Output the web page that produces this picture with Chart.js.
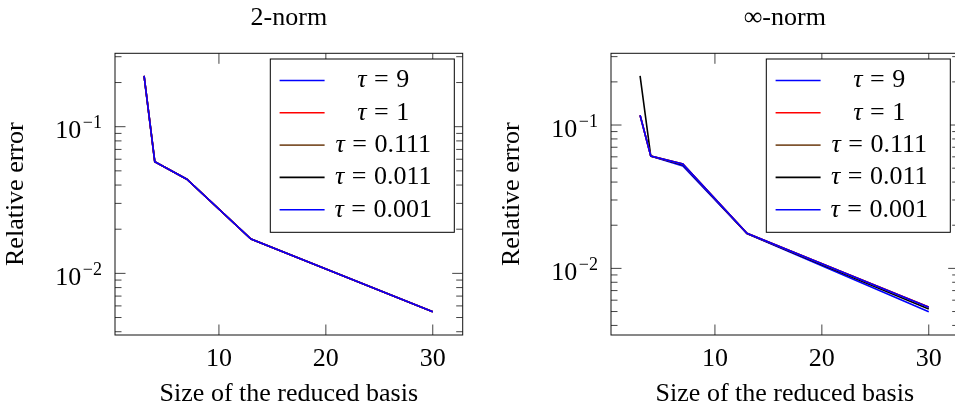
<!DOCTYPE html>
<html>
<head>
<meta charset="utf-8">
<script src="https://cdn.jsdelivr.net/npm/chart.js@4.4.1/dist/chart.umd.min.js"></script>
<style>
  html, body { margin: 0; padding: 0; background: #fff; overflow: hidden; }
  body { width: 955px; height: 412px; position: relative; }
  canvas { position: absolute; top: 0; }
  #twoNorm { left: 0; }
  #infNorm { left: 496px; }
</style>
</head>
<body>
<canvas id="twoNorm" width="477" height="412"></canvas>
<canvas id="infNorm" width="477" height="412"></canvas>
<script>
// size of the reduced basis (x values)
const basisSize = [3, 4, 7, 13, 30];
const tauLabels = ['9', '1', '0.111', '0.011', '0.001'];
const tauColors = ['#0000ff', '#ff0000', '#7f5530', '#000000', '#0000ff'];

// 2-norm relative error, one array per tau (curves all coincide)
const twoNormTau9     = [0.222, 0.0577, 0.0438, 0.01716, 0.00547];
const twoNormTau1     = [0.222, 0.0577, 0.0438, 0.01716, 0.00547];
const twoNormTau0111  = [0.222, 0.0577, 0.0438, 0.01716, 0.00547];
const twoNormTau0011  = [0.222, 0.0577, 0.0438, 0.01716, 0.00547];
const twoNormTau0001  = [0.222, 0.0577, 0.0438, 0.01716, 0.00547];

// infinity-norm relative error
const infNormTau9     = [0.117, 0.0608, 0.0534, 0.01755, 0.00535];
const infNormTau1     = [0.117, 0.0608, 0.0536, 0.01756, 0.00537];
const infNormTau0111  = [0.117, 0.0608, 0.0534, 0.01755, 0.00535];
const infNormTau0011  = [0.220, 0.0608, 0.0528, 0.01752, 0.00520];
const infNormTau0001  = [0.117, 0.0608, 0.0518, 0.01750, 0.00498];

const xTickValues = [10, 20, 30];
const yTickValues = [0.1, 0.01];

const FONT = '"Liberation Serif", "Times New Roman", serif';
Chart.defaults.color = '#000';
Chart.defaults.font.family = FONT;

// pgfplots-like box: frame, inward ticks, 10^k labels and the legend
const pgfBox = {
  id: 'pgfBox',
  afterDatasetsDraw(chart) {
    const { ctx, chartArea: a, scales: { x, y } } = chart;
    ctx.save();
    const tick = (x1, y1, x2, y2) => {
      ctx.beginPath(); ctx.moveTo(x1, y1); ctx.lineTo(x2, y2); ctx.stroke();
    };
    ctx.strokeStyle = '#444';
    ctx.lineWidth = 1;
    xTickValues.forEach(v => {
      const px = x.getPixelForValue(v);
      tick(px, a.bottom, px, a.bottom - 10.5);
      tick(px, a.top, px, a.top + 10.5);
    });
    const lo = Math.floor(Math.log10(y.min)), hi = Math.ceil(Math.log10(y.max));
    for (let e = lo; e <= hi; e++) {
      for (let k = 1; k <= 9; k++) {
        const v = k * Math.pow(10, e);
        if (v < y.min || v > y.max) continue;
        const len = k === 1 ? 10.5 : 6.5;
        const py = y.getPixelForValue(v);
        tick(a.left, py, a.left + len, py);
        tick(a.right, py, a.right - len, py);
      }
    }
    ctx.strokeStyle = '#111';
    ctx.strokeRect(a.left, a.top, a.right - a.left, a.bottom - a.top);

    // y tick labels as 10^k
    ctx.fillStyle = '#000';
    ctx.textAlign = 'right';
    ctx.textBaseline = 'alphabetic';
    yTickValues.forEach(v => {
      const py = y.getPixelForValue(v);
      const ex = Math.round(Math.log10(v));
      const sup = (ex < 0 ? '\u2212' : '') + Math.abs(ex);
      const xr = a.left - 13;
      ctx.font = '18px ' + FONT;
      ctx.fillText(sup, xr, py + 1.6);
      const w = ctx.measureText(sup).width;
      ctx.font = '26px ' + FONT;
      ctx.fillText('10', xr - w - 1.5, py + 11.6);
    });

    // legend box
    const lw = 184, lh = 173.3;
    const x0 = a.right - 8.4 - lw, y0 = a.top + 5.7;
    ctx.fillStyle = '#fff';
    ctx.fillRect(x0, y0, lw, lh);
    ctx.strokeStyle = '#000';
    ctx.strokeRect(x0, y0, lw, lh);
    ctx.textBaseline = 'middle';
    ctx.textAlign = 'left';
    const gap = 7.5;
    chart.data.datasets.forEach((ds, i) => {
      const cy = y0 + 21.5 + i * 32.3;
      ctx.strokeStyle = ds.borderColor;
      ctx.lineWidth = ds.borderWidth;
      tick(x0 + 9.3, cy, x0 + 54.3, cy);
      const num = tauLabels[i];
      ctx.font = 'italic 26px ' + FONT;
      const wt = ctx.measureText('\u03c4').width;
      ctx.font = '26px ' + FONT;
      const we = ctx.measureText('=').width;
      const wn = ctx.measureText(num).width;
      const total = wt + gap + we + gap + wn;
      let sx = x0 + 113 - total / 2;
      ctx.fillStyle = '#000';
      ctx.font = 'italic 26px ' + FONT;
      ctx.fillText('\u03c4', sx, cy);
      sx += wt + gap;
      ctx.font = '26px ' + FONT;
      ctx.fillText('=', sx, cy);
      sx += we + gap;
      ctx.fillText(num, sx, cy);
    });
    ctx.restore();
  }
};

function makeChart(id, title, seriesList, yMin, yMax) {
  const ctx = document.getElementById(id).getContext('2d');
  return new Chart(ctx, {
    type: 'line',
    data: {
      datasets: seriesList.map((vals, i) => ({
        label: '\u03c4 = ' + tauLabels[i],
        data: basisSize.map((b, j) => ({ x: b, y: vals[j] })),
        borderColor: tauColors[i],
        borderWidth: 1.6,
        pointRadius: 0,
        fill: false,
        tension: 0
      }))
    },
    options: {
      responsive: false,
      animation: false,
      devicePixelRatio: 1,
      layout: { padding: { left: 0, right: 14.3, top: 0, bottom: 0 } },
      plugins: {
        legend: { display: false },
        tooltip: { enabled: false },
        title: {
          display: true,
          text: title,
          fullSize: false,
          font: { size: 26, weight: 'normal', family: FONT },
          padding: { top: 2.9, bottom: 19.2 }
        }
      },
      scales: {
        x: {
          type: 'linear',
          min: 0.28,
          max: 32.8,
          bounds: 'data',
          afterBuildTicks: s => { s.ticks = xTickValues.map(v => ({ value: v })); },
          afterFit: s => { s.height = 77; },
          grid: { display: false, drawTicks: false },
          border: { display: false },
          ticks: { padding: 9, font: { size: 26 }, maxRotation: 0 },
          title: {
            display: true,
            text: 'Size of the reduced basis',
            font: { size: 26 },
            padding: { top: 0, bottom: 2.4 }
          }
        },
        y: {
          type: 'logarithmic',
          min: yMin,
          max: yMax,
          bounds: 'data',
          afterFit: s => { s.width = 115; },
          grid: { display: false, drawTicks: false },
          border: { display: false },
          ticks: { display: false },
          title: {
            display: true,
            text: 'Relative error',
            font: { size: 26 },
            padding: { top: 1, bottom: 0 }
          }
        }
      }
    },
    plugins: [pgfBox]
  });
}

makeChart('twoNorm', '2-norm',
  [twoNormTau9, twoNormTau1, twoNormTau0111, twoNormTau0011, twoNormTau0001],
  0.0038, 0.3165);
makeChart('infNorm', '\u221e-norm',
  [infNormTau9, infNormTau1, infNormTau0111, infNormTau0011, infNormTau0001],
  0.00343, 0.3165);
</script>
</body>
</html>
